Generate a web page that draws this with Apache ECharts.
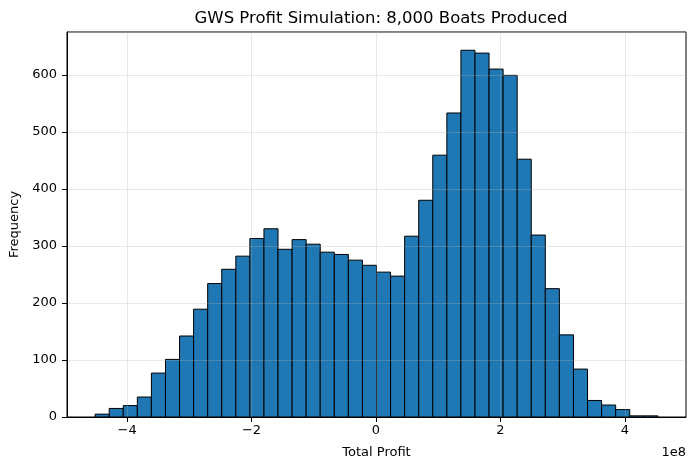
<!DOCTYPE html>
<html>
<head>
<meta charset="utf-8">
<script src="https://cdn.jsdelivr.net/npm/echarts@6/dist/echarts.min.js"></script>
<style>
  html, body { margin: 0; padding: 0; background: #fff; }
  #chart { width: 695px; height: 470px; }
</style>
</head>
<body>
<div id="chart"></div>
<script>
// histogram, 40 bins
var binStart = -4.514e8;
var binWidth = 0.2261e8;
var counts = [5, 15, 20, 35, 77, 101, 142, 189, 234, 259,
              282, 313, 330, 294, 311, 303, 289, 285, 275, 266,
              254, 247, 317, 380, 459, 533, 643, 638, 610, 599,
              452, 319, 225, 144, 84, 29, 21, 13, 2, 2];
var xTicks = [-4e8, -2e8, 0, 2e8, 4e8];
var xRange = [-4.966e8, 4.982e8];
var yRange = [0, 675];

var bins = [];
for (var i = 0; i < counts.length; i++) {
    bins.push([binStart + i * binWidth, binStart + (i + 1) * binWidth, counts[i]]);
}

var font = 'DejaVu Sans';
var gridColor = 'rgba(176,176,176,0.3)';

function renderItem(params, api) {
    var top = api.coord([api.value(0), api.value(2)]);
    var bot = api.coord([api.value(1), 0]);
    return {
        type: 'rect',
        shape: { x: top[0], y: top[1], width: bot[0] - top[0], height: bot[1] - top[1] },
        style: { fill: '#1f77b4', stroke: '#000', lineWidth: 1 }
    };
}

var chart = echarts.init(document.getElementById('chart'), null, { renderer: 'canvas' });
chart.setOption({
    animation: false,
    title: {
        text: 'GWS Profit Simulation: 8,000 Boats Produced',
        left: 376, top: 5, textAlign: 'center',
        textStyle: { fontFamily: font, fontSize: 16.5, fontWeight: 'normal', color: '#000' }
    },
    grid: {
        left: 67, right: 9, top: 32, bottom: 53,
        outerBoundsMode: 'none', containLabel: false,
        show: true, borderColor: '#000', borderWidth: 1, backgroundColor: 'transparent'
    },
    xAxis: {
        type: 'value', min: xRange[0], max: xRange[1], z: 3,
        name: 'Total Profit', nameLocation: 'middle', nameGap: 29,
        nameTextStyle: { fontFamily: font, fontSize: 13, color: '#000' },
        axisLine: { show: true, onZero: false, lineStyle: { color: '#000', width: 1 } },
        axisTick: { show: true, length: 5, customValues: xTicks, lineStyle: { color: '#000' } },
        axisLabel: {
            customValues: xTicks, margin: 7,
            fontFamily: font, fontSize: 13, color: '#000',
            formatter: function (v) { return String(Math.round(v / 1e8)).replace('-', '\u2212'); }
        },
        splitLine: { show: true, customValues: xTicks, lineStyle: { color: gridColor, width: 1 } }
    },
    yAxis: {
        type: 'value', min: yRange[0], max: yRange[1], interval: 100, z: 3,
        name: 'Frequency', nameLocation: 'middle', nameGap: 44,
        nameTextStyle: { fontFamily: font, fontSize: 13, color: '#000' },
        axisLine: { show: true, onZero: false, lineStyle: { color: '#000', width: 1 } },
        axisTick: { show: true, length: 5, lineStyle: { color: '#000' } },
        axisLabel: {
            margin: 10, fontFamily: font, fontSize: 13, color: '#000',
            showMaxLabel: false
        },
        splitLine: { show: true, lineStyle: { color: gridColor, width: 1 } }
    },
    graphic: [{
        type: 'text', right: 9, top: 446,
        style: { text: '1e8', fontFamily: font, fontSize: 13, fill: '#000' }
    }],
    series: [{
        type: 'custom',
        renderItem: renderItem,
        encode: { x: [0, 1], y: 2 },
        data: bins,
        z: 2
    }]
});
</script>
</body>
</html>
